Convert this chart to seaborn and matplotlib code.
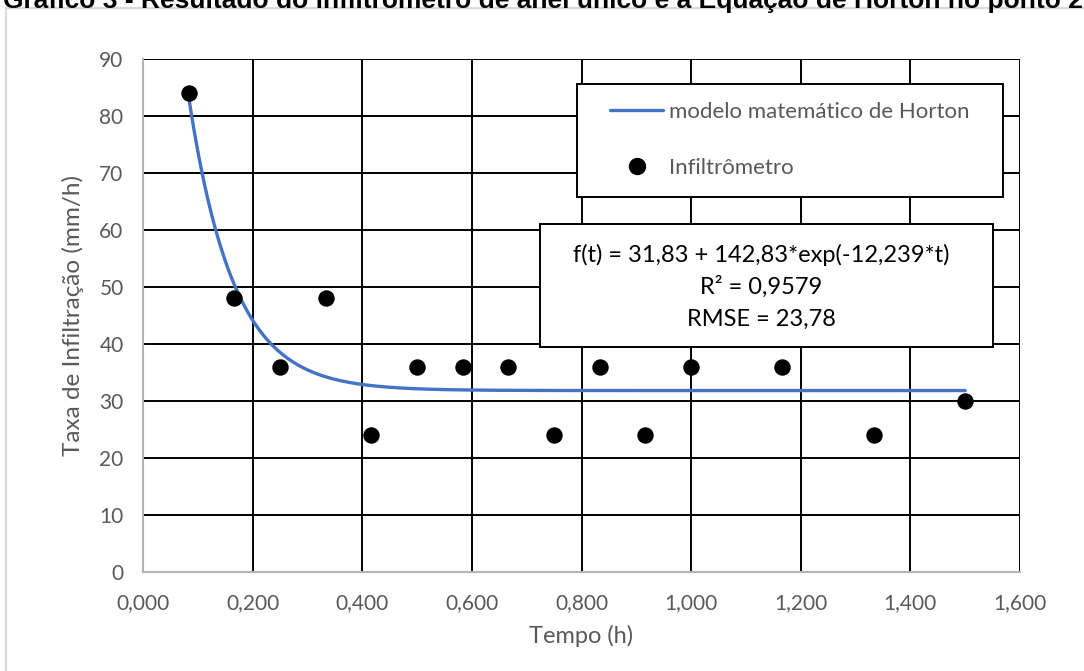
import numpy as np
import pandas as pd
import matplotlib
matplotlib.use("Agg")
import matplotlib.pyplot as plt
import seaborn as sns
from matplotlib.patches import Rectangle
from matplotlib.lines import Line2D

# ---- data ----
tempo_h = [0.0833, 0.1667, 0.2500, 0.3333, 0.4167, 0.5000, 0.5833, 0.6667,
           0.7500, 0.8333, 0.9167, 1.0000, 1.1667, 1.3333, 1.5000]
taxa_mm_h = [84, 48, 36, 48, 24, 36, 36, 36, 24, 36, 24, 36, 36, 24, 30]

# Horton model parameters (from the equation shown on the chart)
fc = 31.83
f0_minus_fc = 142.83
k = 12.239

title = "Gráfico 3 - Resultado do infiltrômetro de anel único e a Equação de Horton no ponto 2"
xlabel = "Tempo (h)"
ylabel = "Taxa de Infiltração (mm/h)"
legend_labels = ["modelo matemático de Horton", "Infiltrômetro"]
eq_lines = ["f(t) = 31,83 + 142,83*exp(-12,239*t)", "R² = 0,9579", "RMSE = 23,78"]
xticks = [0.0, 0.2, 0.4, 0.6, 0.8, 1.0, 1.2, 1.4, 1.6]
yticks = [0, 10, 20, 30, 40, 50, 60, 70, 80, 90]

sns.set_theme(style="white")
plt.rcParams['font.family'] = ['Lato', 'DejaVu Sans']

W, H = 1084, 671
fig = plt.figure(figsize=(W / 100, H / 100), dpi=100)

def fx(px):
    return px / W

def fy(py):
    return 1 - py / H

ax = fig.add_axes([fx(143), fy(572), fx(1020) - fx(143), fy(59) - fy(572)])

t_curve = np.linspace(tempo_h[0], tempo_h[-1], 300)
model = pd.DataFrame({"t": t_curve, "f": fc + f0_minus_fc * np.exp(-k * t_curve)})
obs = pd.DataFrame({"t": tempo_h, "f": taxa_mm_h})

sns.lineplot(data=model, x="t", y="f", ax=ax, color="#4472C4", linewidth=2.4,
             zorder=3, legend=False)
sns.scatterplot(data=obs, x="t", y="f", ax=ax, color="black", s=140,
                edgecolor="black", linewidth=0, zorder=4, legend=False)

ax.set_xlim(0, 1.6)
ax.set_ylim(0, 90)
ax.set_xticks(xticks)
ax.set_yticks(yticks)
ax.set_xticklabels([f"{v:.3f}".replace(".", ",") for v in xticks])
ax.set_yticklabels([str(v) for v in yticks])
ax.grid(True, color="black", linewidth=1.4)
ax.set_axisbelow(True)
for s in ["top", "right"]:
    ax.spines[s].set_visible(False)
for s in ["left", "bottom"]:
    ax.spines[s].set_color("#b4b4b4")
    ax.spines[s].set_linewidth(1.5)
ax.tick_params(axis="both", length=0, labelsize=15, colors="#595959")
ax.tick_params(axis="y", pad=14)
ax.tick_params(axis="x", pad=15)
ax.set_xlabel(xlabel, fontsize=17, color="#595959", labelpad=9)
ax.set_ylabel(ylabel, fontsize=17.5, color="#595959", labelpad=11)

# legend box + legend entries
fig.patches.append(Rectangle((fx(577), fy(197)), fx(1003) - fx(577), fy(84) - fy(197),
                             transform=fig.transFigure, facecolor="white",
                             edgecolor="black", linewidth=1.4, zorder=9))
handles = [Line2D([], [], color="#4472C4", linewidth=2.4),
           Line2D([], [], marker="o", linestyle="none", color="black", markersize=11.5)]
leg = fig.legend(handles, legend_labels, loc="upper left",
                 bbox_to_anchor=(fx(610), fy(102)), bbox_transform=fig.transFigure,
                 frameon=False, fontsize=16, labelcolor="#595959",
                 handlelength=2.4, handletextpad=0.25, labelspacing=1.6,
                 borderpad=0, borderaxespad=0)
leg.set_zorder(10)

# equation box
fig.patches.append(Rectangle((fx(540), fy(347)), fx(993) - fx(540), fy(224) - fy(347),
                             transform=fig.transFigure, facecolor="white",
                             edgecolor="black", linewidth=1.4, zorder=9))
for i, line in enumerate(eq_lines):
    fig.text(fx(761), fy(255 + 32 * i), line, ha="center", va="center",
             fontsize=17, color="black", zorder=11)

# chart area border
fig.patches.append(Rectangle((fx(6), fy(700)), fx(1100) - fx(6), fy(8) - fy(700),
                             transform=fig.transFigure, facecolor="none",
                             edgecolor="#d9d9d9", linewidth=1.5))

# title (clipped at top as in reference)
fig.text(fx(543), fy(8), title, ha="center", va="baseline", fontsize=19,
         fontweight="bold", family=["Liberation Sans", "DejaVu Sans"], color="black")

fig.savefig("out.png", dpi=100)
